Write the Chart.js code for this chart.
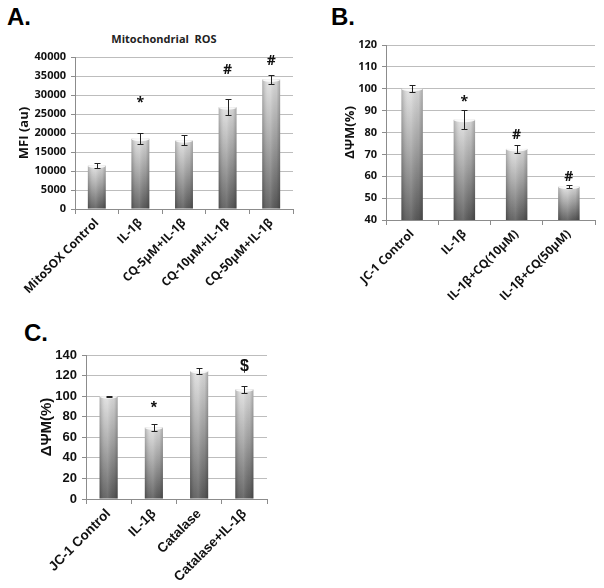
<!DOCTYPE html>
<html>
<head>
<meta charset="utf-8">
<script src="https://cdn.jsdelivr.net/npm/chart.js@4.4.1/dist/chart.umd.min.js"></script>
<style>
  body { margin: 0; background: #fff; }
  #page { position: relative; width: 604px; height: 588px; overflow: hidden; }
  .box { position: absolute; }
  .letter { position: absolute; font: bold 24px "Liberation Sans", Arial, sans-serif; color: #000; }
  .title { position: absolute; font: bold 11px "Open Sans", sans-serif; color: #222; white-space: nowrap; transform: translateX(-50%); }
</style>
</head>
<body>
<div id="page">
  <div class="letter" style="left:7px; top:3px;">A.</div>
  <div class="letter" style="left:331px; top:3px;">B.</div>
  <div class="letter" style="left:24px; top:319px;">C.</div>
  <div class="title" style="left:164px; top:31px;">Mitochondrial&nbsp; ROS</div>
  <div class="box" style="left:0; top:0; width:300px; height:300px;"><canvas id="chartA"></canvas></div>
  <div class="box" style="left:300px; top:0; width:304px; height:300px;"><canvas id="chartB"></canvas></div>
  <div class="box" style="left:0; top:300px; width:300px; height:288px;"><canvas id="chartC"></canvas></div>
</div>
<script>
// Panel A - mitochondrial ROS
const labelsA = ['MitoSOX Control', 'IL-1β', 'CQ-5µM+IL-1β', 'CQ-10µM+IL-1β', 'CQ-50µM+IL-1β'];
const valuesA = [11400, 18500, 18100, 26800, 34100];
const errorsA = [600, 1400, 1300, 2100, 1250];
const marksA = ['', '*', '', '#', '#'];
const markAtA = [0, 27800, 0, 36700, 39000];

// Panel B - membrane potential, CQ
const labelsB = ['JC-1 Control', 'IL-1β', 'IL-1β+CQ(10µM)', 'IL-1β+CQ(50µM)'];
const valuesB = [100, 85.8, 72.5, 55.2];
const errorsB = [1.5, 4.3, 2, 0.7];
const marksB = ['', '*', '#', '#'];
const markAtB = [0, 94, 78.8, 59.5];

// Panel C - membrane potential, catalase
const labelsC = ['JC-1 Control', 'IL-1β', 'Catalase', 'Catalase+IL-1β'];
const valuesC = [100, 69.5, 124.5, 106.5];
const errorsC = [0.5, 3.5, 2.5, 3];
const marksC = ['', '*', '', '$'];
const markAtC = [0, 88, 0, 128.5];

function barFill(ctx) {
    const chart = ctx.chart;
    const area = chart.chartArea;
    if (!area || ctx.type !== 'data') return '#999';
    const top = chart.scales.y.getPixelForValue(ctx.raw);
    const g = chart.ctx.createLinearGradient(0, top, 0, area.bottom);
    g.addColorStop(0, '#e0e0e0');
    g.addColorStop(0.45, '#a6a6a6');
    g.addColorStop(1, '#595959');
    return g;
}

// cylinder shading, error bars and significance marks, all placed from the bar elements / y scale
const extras = {
    id: 'extras',
    afterDatasetsDraw(chart, args, opts) {
        const c = chart.ctx;
        const y = chart.scales.y;
        const bottom = chart.chartArea.bottom;
        const bars = chart.getDatasetMeta(0).data;
        c.save();
        bars.forEach(bar => {
            const l = bar.x - bar.width / 2, r = bar.x + bar.width / 2;
            const h = Math.min(bar.base, bottom) - bar.y;
            const sh = c.createLinearGradient(l, 0, r, 0);
            sh.addColorStop(0, 'rgba(0,0,0,0.22)');
            sh.addColorStop(0.3, 'rgba(255,255,255,0.08)');
            sh.addColorStop(0.45, 'rgba(255,255,255,0.12)');
            sh.addColorStop(0.8, 'rgba(0,0,0,0.06)');
            sh.addColorStop(1, 'rgba(0,0,0,0.25)');
            c.fillStyle = sh;
            c.fillRect(l, bar.y, bar.width, h);
            c.save();
            c.beginPath();
            c.rect(l, bar.y, bar.width, h);
            c.clip();
            c.fillStyle = 'rgba(250,250,250,0.95)';
            c.beginPath();
            c.ellipse(bar.x, bar.y, bar.width / 2, 2.5, 0, 0, Math.PI * 2);
            c.fill();
            c.restore();
        });
        c.strokeStyle = '#222';
        c.lineWidth = 1;
        bars.forEach((bar, i) => {
            const v = opts.values[i], e = opts.errors[i];
            const y1 = Math.round(y.getPixelForValue(v + e)) + 0.5;
            const y2 = Math.round(y.getPixelForValue(v - e)) + 0.5;
            const x = Math.round(bar.x) + 0.5;
            c.beginPath();
            c.moveTo(x, y1); c.lineTo(x, y2);
            c.moveTo(x - 3, y1); c.lineTo(x + 3, y1);
            c.moveTo(x - 3, y2); c.lineTo(x + 3, y2);
            c.stroke();
            if (opts.marks[i]) {
                c.fillStyle = '#111';
                c.font = opts.markFont;
                c.textAlign = 'center';
                c.textBaseline = 'middle';
                c.fillText(opts.marks[i], bar.x, y.getPixelForValue(opts.markAt[i]));
            }
        });
        c.restore();
    }
};

function makeChart(id, cfg) {
    const tickFont = { family: cfg.family, size: cfg.size, weight: 'bold' };
    return new Chart(document.getElementById(id), {
        type: 'bar',
        data: {
            labels: cfg.labels,
            datasets: [{
                data: cfg.values,
                backgroundColor: barFill,
                borderWidth: 0,
                barPercentage: cfg.barPct,
                categoryPercentage: 1
            }]
        },
        plugins: [extras],
        options: {
            responsive: true,
            maintainAspectRatio: false,
            animation: false,
            locale: 'en-US',
            layout: { padding: cfg.padding },
            plugins: {
                legend: { display: false },
                tooltip: { enabled: false },
                extras: {
                    values: cfg.values, errors: cfg.errors,
                    marks: cfg.marks, markAt: cfg.markAt,
                    markFont: 'bold ' + (cfg.size + 3) + 'px "' + cfg.family + '"'
                }
            },
            scales: {
                x: {
                    grid: { display: true, offset: true, drawOnChartArea: false, tickLength: 5, color: '#8c8c8c' },
                    border: { color: '#8c8c8c' },
                    ticks: { color: '#111', font: { family: cfg.family, size: cfg.xSize, weight: 'bold' }, minRotation: 45, maxRotation: 45, padding: 2 },
                    afterFit: s => { s.height = cfg.xHeight; }
                },
                y: {
                    min: cfg.min, max: cfg.max,
                    grid: { color: '#bdbdbd', tickLength: 4, tickColor: '#8c8c8c' },
                    border: { color: '#8c8c8c' },
                    ticks: { stepSize: cfg.step, color: '#111', font: tickFont, padding: 5, format: { useGrouping: false } },
                    title: { display: true, text: cfg.yTitle, color: '#111', font: { family: cfg.family, size: cfg.size + 2, weight: 'bold' }, padding: 0 },
                    afterFit: s => { s.width = cfg.yWidth; }
                }
            }
        }
    });
}

makeChart('chartA', {
    labels: labelsA, values: valuesA, errors: errorsA, marks: marksA, markAt: markAtA,
    min: 0, max: 40000, step: 5000, yTitle: 'MFI (au)',
    family: 'Open Sans', size: 11, xSize: 12, barPct: 0.41,
    padding: { left: 16, top: 57, right: 7, bottom: 0 }, yWidth: 59, xHeight: 91
});

makeChart('chartB', {
    labels: labelsB, values: valuesB, errors: errorsB, marks: marksB, markAt: markAtB,
    min: 40, max: 120, step: 10, yTitle: 'ΔΨM(%)',
    family: 'Open Sans', size: 11, xSize: 12, barPct: 0.41,
    padding: { left: 42, top: 45, right: 9, bottom: 0 }, yWidth: 44, xHeight: 80
});

makeChart('chartC', {
    labels: labelsC, values: valuesC, errors: errorsC, marks: marksC, markAt: markAtC,
    min: 0, max: 140, step: 20, yTitle: 'ΔΨM(%)',
    family: 'Liberation Sans', size: 13, xSize: 13.5, barPct: 0.40,
    padding: { left: 38, top: 55, right: 33, bottom: 0 }, yWidth: 48, xHeight: 89
});
</script>
</body>
</html>
